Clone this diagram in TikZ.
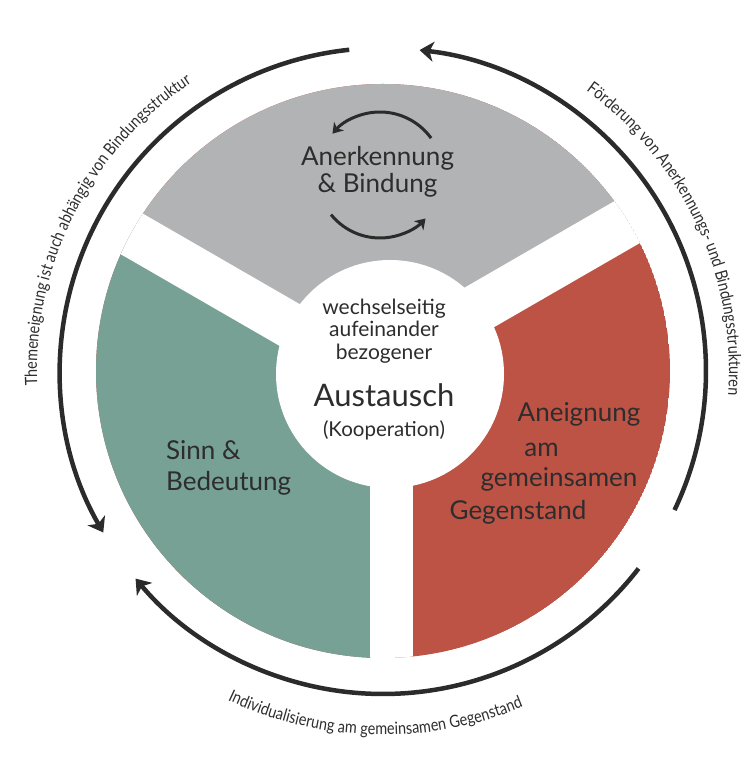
\documentclass[tikz,border=0pt]{standalone}
\usepackage{fontspec}
\setmainfont{Lato}
\newfontfamily\ringfam[FakeStretch=0.85]{Lato}
\usetikzlibrary{arrows.meta,decorations.text}
\definecolor{sgray}{RGB}{178,179,180}
\definecolor{sgreen}{RGB}{118,161,148}
\definecolor{sred}{RGB}{189,83,69}
\definecolor{ink}{RGB}{45,45,45}
\definecolor{ringc}{RGB}{43,43,43}
\newcommand\ringfont{\ringfam\fontsize{17}{17}\selectfont}
\begin{document}
\begin{tikzpicture}[x=1pt,y=1pt,
  lab/.style={text=ink, inner sep=0pt, anchor=base, font=\fontsize{26}{27}\selectfont},
  small/.style={lab, font=\fontsize{21}{22}\selectfont},
  ringarrow/.style={draw=ringc, line width=4.5pt, -{Stealth[length=14pt,width=20pt,inset=4pt]}},
  innerarrow/.style={draw=ringc, line width=3pt, -{Stealth[length=10pt,width=13pt,inset=3pt]}},
]
\useasboundingbox (0,0) rectangle (752,760);
\coordinate (O) at (383,389);
\coordinate (C) at (390,386);
\coordinate (G) at (380,585);
% sectors
\begin{scope}
\clip (O) circle[radius=287];
\fill[sred] (O) circle[radius=287];
\fill[sgreen] (391.5,376.1) -- (391.5,0) -- (0,0) -- (0,602.2) -- cycle;
\fill[sgray] (369.2,389) -- (22.8,589) -- (22.8,760) -- (752,760) -- (758.9,614) -- cycle;
\fill[white] (400,398) -- (53.4,598) -- (35.4,555) -- (382,355) -- cycle;
\fill[white] (353,408) -- (699.6,608) -- (726.6,567) -- (380,367) -- cycle;
\fill[white] (370,50) rectangle (413,390);
\end{scope}
\fill[white] (C) circle[radius=114];
% outer ring arrows
\draw[ringarrow] ([shift={(96:323)}]O) arc[start angle=96, end angle=210, radius=323];
\draw[ringarrow] ([shift={(-25.5:323)}]O) arc[start angle=-25.5, end angle=83.5, radius=323];
\draw[ringarrow] ([shift={(-37.7:323)}]O) arc[start angle=-37.7, end angle=-140, radius=323];
% inner arrows
\draw[innerarrow] ([shift={(35.8:63)}]G) arc[start angle=35.8, end angle=139, radius=63];
\draw[innerarrow] ([shift={(219:63)}]G) arc[start angle=219, end angle=316.3, radius=63];
% ring texts
\path[decorate, decoration={text along path, text align=center, text color=ink,
  text={|\ringfont|Themeneignung ist auch abhängig von Bindungsstruktur}}]
  ([shift={(203:346)}]O) arc[start angle=203, end angle=103, radius=346];
\path[decorate, decoration={text along path, text align=center, text color=ink,
  text={|\ringfont|Förderung von Anerkennungs- und Bindungsstrukturen}}]
  ([shift={(75:346)}]O) arc[start angle=75, end angle=-25, radius=346];
\path[decorate, decoration={text along path, text align=center, text color=ink,
  text={|\ringfont|Individualisierung am gemeinsamen Gegenstand}}]
  ([shift={(218.7:364)}]O) arc[start angle=218.7, end angle=318.7, radius=364];
% labels
\node[lab] (anerk) at (377.5,594) {Anerkennung};
\node[lab] (bind) at (377.5,567) {\& Bindung};
\node[small] (w1) at (384,445) {wechselseitig};
\node[small] (w2) at (384,423) {aufeinander};
\node[small] (w3) at (384,400) {bezogener};
\node[lab, font=\fontsize{31}{31}\selectfont] (aus) at (384,353) {Austausch};
\node[small, font=\fontsize{20.5}{21}\selectfont] (koop) at (384,323) {(Kooperation)};
\node[lab, anchor=base west] (sinn) at (166,300) {Sinn \&};
\node[lab, anchor=base west] (bed) at (166,269) {Bedeutung};
\node[lab] (an1) at (579,338) {Aneignung};
\node[lab] (an2) at (541.5,303) {am};
\node[lab] (an3) at (559,273) {gemeinsamen};
\node[lab] (an4) at (518,240) {Gegenstand};
\end{tikzpicture}
\end{document}
